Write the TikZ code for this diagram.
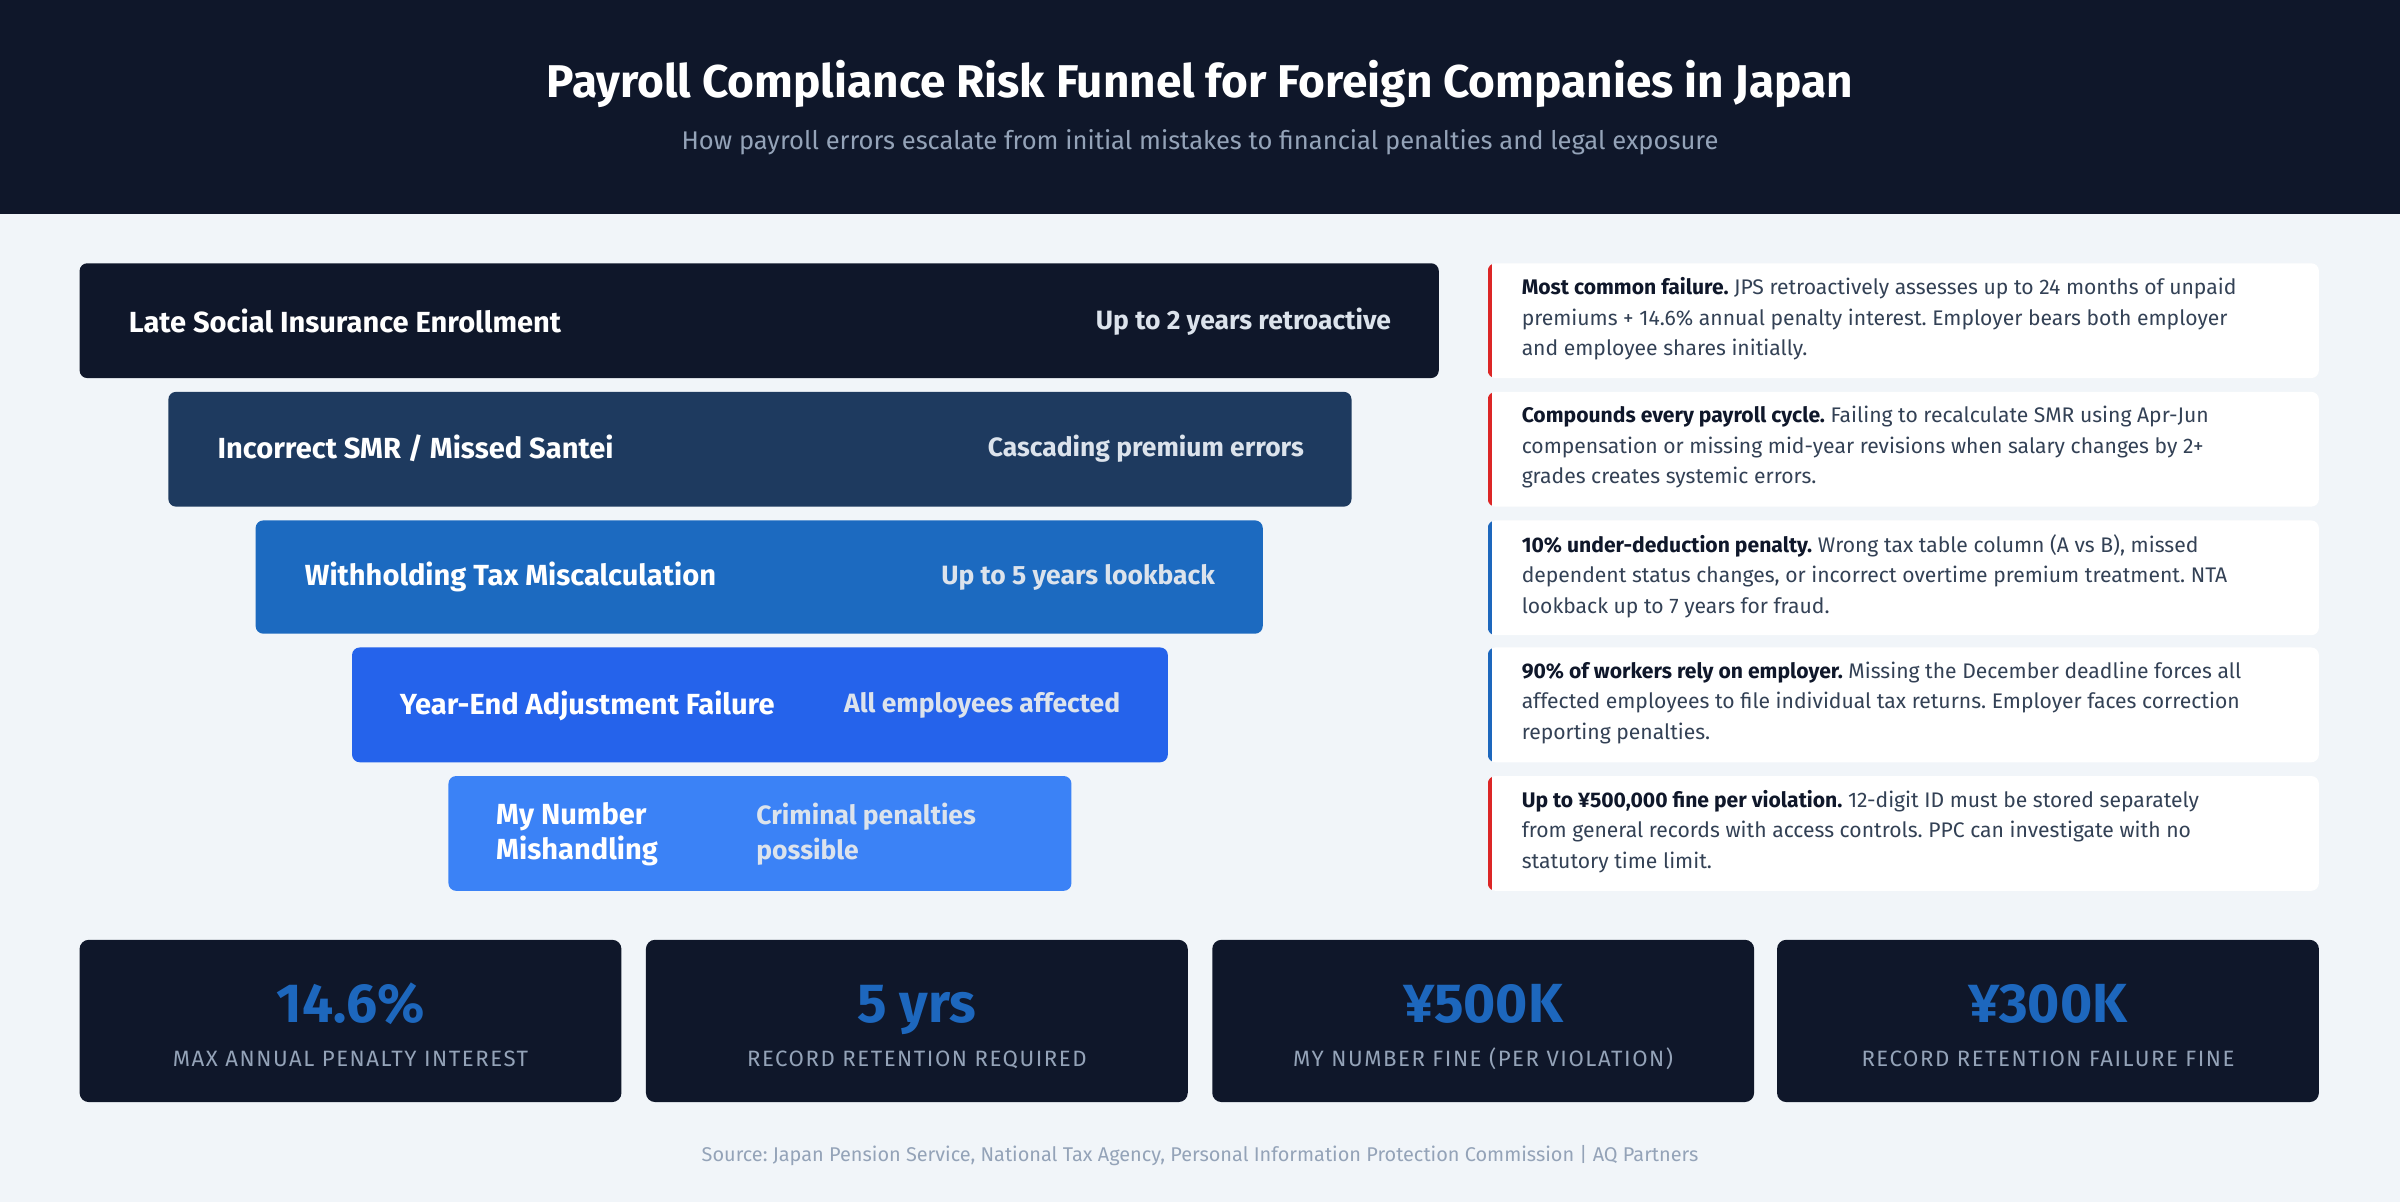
\documentclass[tikz,border=0pt]{standalone}
\usepackage{fontspec}
\setmainfont{Fira Sans}
\definecolor{navy}{HTML}{0F172A}
\definecolor{bodybg}{HTML}{F1F5F9}
\definecolor{slate}{HTML}{94A3B8}
\definecolor{txt}{HTML}{334155}
\definecolor{fa}{HTML}{0F172A}
\definecolor{fb}{HTML}{1E3A5F}
\definecolor{fc}{HTML}{1C6AC0}
\definecolor{fd}{HTML}{2563EB}
\definecolor{fe}{HTML}{3B82F6}
\definecolor{redacc}{HTML}{DC2626}
\definecolor{blueacc}{HTML}{1D67BD}
\definecolor{numblue}{HTML}{1D67BD}
\definecolor{lbl}{HTML}{DCE3EC}
\frenchspacing
\hyphenpenalty=10000
\exhyphenpenalty=10000
\begin{document}
\begin{tikzpicture}[x=1pt,y=-1pt,
  bar/.style={rounded corners=5pt},
  lt/.style={anchor=west,inner sep=0pt,text=white,font=\fontsize{19}{23}\selectfont\bfseries,align=left},
  rt/.style={anchor=east,inner sep=0pt,text=lbl,font=\fontsize{17.3}{23}\selectfont\bfseries,align=left},
  card/.style={fill=white,rounded corners=5pt},
  ctext/.style={anchor=north west,text=txt,inner sep=0pt,font=\fontsize{13.8}{20}\selectfont,align=left},
  stat/.style={fill=navy,rounded corners=6pt},
  snum/.style={anchor=base,text=numblue,font=\fontsize{36}{40}\selectfont\bfseries},
  slab/.style={anchor=base,text=slate,font=\fontsize{14.5}{17}\selectfont\addfontfeature{LetterSpace=7}}]
\useasboundingbox (0,0) rectangle (1568,785);
\fill[bodybg] (0,0) rectangle (1568,785);
\fill[navy] (0,0) rectangle (1568,140);
\node[text=white,font=\fontsize{30}{34}\selectfont\bfseries] (title) at (784,55) {Payroll Compliance Risk Funnel for Foreign Companies in Japan};
\node[text=slate,font=\fontsize{16.7}{20}\selectfont] (sub) at (784,93) {How payroll errors escalate from initial mistakes to financial penalties and legal exposure};
% funnel
\fill[bar,fa] (52,172) rectangle (940,247);
\node[lt] (l1) at (84,210) {Late Social Insurance Enrollment};
\node[rt] (r1) at (909,210) {Up to 2 years retroactive};
\fill[bar,fb] (110,256) rectangle (883,331);
\node[lt] (l2) at (142,293) {Incorrect SMR / Missed Santei};
\node[rt] (r2) at (852,293) {Cascading premium errors};
\fill[bar,fc] (167,340) rectangle (825,414);
\node[lt] (l3) at (199,377) {Withholding Tax Miscalculation};
\node[rt] (r3) at (794,377) {Up to 5 years lookback};
\fill[bar,fd] (230,423) rectangle (763,498);
\node[lt] (l4) at (261,461) {Year-End Adjustment Failure};
\node[rt] (r4) at (732,461) {All employees affected};
\fill[bar,fe] (293,507) rectangle (700,582);
\node[lt] (l5) at (324,545) {My Number\\Mishandling};
\node[anchor=west,inner sep=0pt,text=lbl,font=\fontsize{17.3}{23}\selectfont\bfseries,align=left] (r5) at (494,545) {Criminal penalties\\possible};
% cards
\foreach \y/\c in {172/redacc,256/redacc,340/blueacc,423/blueacc,507/redacc}{
  \fill[card] (972,\y) rectangle (1515,\y+75);
  \begin{scope}
  \clip[rounded corners=5pt] (972,\y) rectangle (1515,\y+75);
  \fill[\c] (972,\y) rectangle (975,\y+75);
  \end{scope}
}
\node[ctext] (c1) at (994,181) {\textbf{\color{navy}Most common failure.} JPS retroactively assesses up to 24 months of unpaid\\premiums + 14.6\% annual penalty interest. Employer bears both employer\\and employee shares initially.};
\node[ctext] (c2) at (994,265) {\textbf{\color{navy}Compounds every payroll cycle.} Failing to recalculate SMR using Apr-Jun\\compensation or missing mid-year revisions when salary changes by 2+\\grades creates systemic errors.};
\node[ctext] (c3) at (994,349) {\textbf{\color{navy}10\% under-deduction penalty.} Wrong tax table column (A vs B), missed\\dependent status changes, or incorrect overtime premium treatment. NTA\\lookback up to 7 years for fraud.};
\node[ctext] (c4) at (994,432) {\textbf{\color{navy}90\% of workers rely on employer.} Missing the December deadline forces all\\affected employees to file individual tax returns. Employer faces correction\\reporting penalties.};
\node[ctext] (c5) at (994,516) {\textbf{\color{navy}Up to ¥500,000 fine per violation.} 12-digit ID must be stored separately\\from general records with access controls. PPC can investigate with no\\statutory time limit.};
% stats
\foreach \x/\n/\l [count=\i] in {52/14.6\%/MAX ANNUAL PENALTY INTEREST,422/5 yrs/RECORD RETENTION REQUIRED,792/¥500K/MY NUMBER FINE (PER VIOLATION),1161/¥300K/RECORD RETENTION FAILURE FINE}{
  \fill[stat] (\x,614) rectangle (\x+354,720);
  \node[snum] (n\i) at (\x+177,668) {\n};
  \node[slab] (s\i) at (\x+177,697) {\l};
}
\node[text=slate,font=\fontsize{13}{15}\selectfont] (src) at (784,755) {Source: Japan Pension Service, National Tax Agency, Personal Information Protection Commission | AQ Partners};
\end{tikzpicture}
\end{document}
